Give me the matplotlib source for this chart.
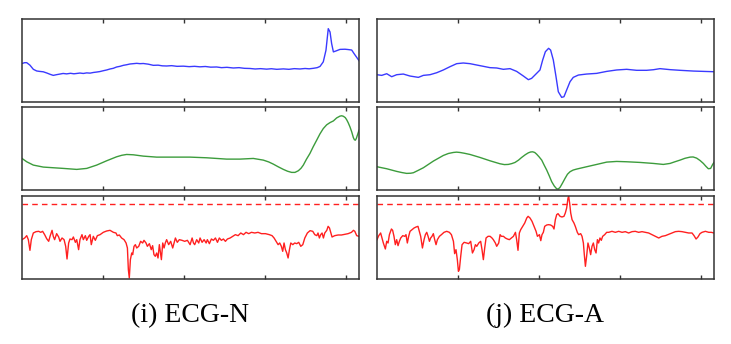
import matplotlib.pyplot as plt

# ---- data (sample index 0..250, normalised amplitude 0..1) ----
# (i) ECG-N: raw signal
n_raw_x = [0, 2, 3.5, 5.9, 8.4, 10.9, 13, 15.8, 18.5, 20.8, 23.2, 25.5, 28.2, 30.5, 33.1, 36, 38.5,
           40.6, 43, 45.5, 48, 50.5, 53, 55.4, 57.8, 60.3, 62.8, 65.3, 67.7, 70.2, 72.7, 75.2, 77.6,
           80.1, 82.6, 85.1, 87.5, 90, 93.7, 97.4, 101, 104, 107.3, 111, 115, 119.7, 124, 128, 132,
           136, 140, 144.4, 148, 152, 156.8, 161, 165, 169.1, 173, 177, 181.5, 185, 189, 193.9, 198,
           202, 206.2, 210, 213, 216.1, 219, 221.1, 223.5, 225.5, 227.2, 228.5, 229.7, 231, 233.4,
           235.9, 239.6, 242, 244.6, 246.3, 248.3, 250]
n_raw_y = [0.46, 0.47, 0.47, 0.44, 0.39, 0.37, 0.365, 0.36, 0.345, 0.33, 0.317, 0.325, 0.333, 0.34,
           0.335, 0.342, 0.336, 0.34, 0.345, 0.34, 0.347, 0.344, 0.352, 0.357, 0.363, 0.373, 0.382,
           0.394, 0.402, 0.418, 0.426, 0.438, 0.445, 0.454, 0.458, 0.462, 0.458, 0.46, 0.452, 0.438,
           0.44, 0.432, 0.43, 0.434, 0.426, 0.428, 0.422, 0.426, 0.42, 0.424, 0.416, 0.418, 0.41,
           0.414, 0.406, 0.41, 0.402, 0.4, 0.394, 0.398, 0.392, 0.397, 0.39, 0.395, 0.39, 0.398,
           0.394, 0.4, 0.396, 0.402, 0.41, 0.425, 0.48, 0.62, 0.88, 0.84, 0.70, 0.60, 0.614, 0.63,
           0.632, 0.628, 0.622, 0.58, 0.534, 0.494]

# (i) ECG-N: smoothed signal
n_smooth_x = [0, 3.5, 8.4, 15.8, 23.2, 30.7, 40.6, 48, 55.4, 62.8, 70.2, 74, 77.6, 82.6, 90, 99.9,
              112.3, 124.6, 137, 151.8, 161.7, 171.6, 179, 183, 186.4, 190, 193.9, 197, 200, 202.5,
              205, 207, 208.7, 211, 213.6, 216, 218.6, 221, 223.5, 226, 228.5, 231, 233.4, 235.9,
              237.2, 238.4, 239.8, 240.8, 242, 243.3, 244.6, 245.8, 246.6, 247.3, 248, 248.8, 250]
n_smooth_y = [0.38, 0.34, 0.30, 0.276, 0.268, 0.26, 0.248, 0.26, 0.30, 0.352, 0.40, 0.418, 0.428,
              0.424, 0.408, 0.396, 0.396, 0.396, 0.388, 0.372, 0.372, 0.38, 0.36, 0.338, 0.312, 0.28,
              0.248, 0.226, 0.212, 0.212, 0.232, 0.262, 0.30, 0.37, 0.44, 0.52, 0.60, 0.675, 0.74,
              0.785, 0.812, 0.832, 0.868, 0.89, 0.894, 0.888, 0.872, 0.848, 0.81, 0.76, 0.70, 0.632,
              0.605, 0.60, 0.62, 0.66, 0.72]

# (i) ECG-N: anomaly score
n_score_x = [0, 2, 3.5, 4.7, 5.9, 6.9, 8.4, 10.4, 12.4, 13.9, 15.3, 16.8, 18.3, 19.8, 20.8, 22.3,
             23.2, 24.2, 25.7, 27.2, 28.2, 29.7, 31.2, 32.4, 33.4, 34.6, 35.6, 37.1, 38.1, 39.6,
             40.6, 42, 43, 44.5, 45.5, 47, 48, 49.5, 50.5, 51.4, 52.9, 54.4, 55.9, 57.9, 60.3,
             62.8, 65.3, 67.8, 69.7, 70.7, 72.2, 73.9, 75.7, 77.2, 78.2, 78.9, 79.6, 80.4, 81.4,
             82.1, 83.1, 84.1, 85.1, 86.6, 88, 89.5, 90.5, 92, 93, 94.5, 95.9, 96.9, 97.9, 98.9,
             99.9, 100.9, 101.9, 103.4, 104.4, 105.4, 106.3, 107.3, 108.8, 110.3, 111.8, 112.8,
             113.8, 115.2, 116.7, 118.7, 120.7, 122.7, 124.7, 126.2, 127.2, 128.1, 129.6, 131.1,
             132.1, 133.6, 135.1, 136.6, 137.5, 139, 140.5, 142, 143.5, 145, 146.4, 147.9, 149.4,
             150.9, 152.4, 154.4, 156.3, 158.3, 160.3, 162.3, 164.3, 166.2, 168.2, 170.2, 172.7,
             175.1, 177.6, 180.6, 183.5, 185.5, 187, 188.5, 190, 191.2, 192.4, 193.4, 194.4, 195.4,
             196.4, 197.4, 198.4, 199.4, 200.9, 202.3, 203.8, 205.3, 206.8, 208.3, 209.8, 211.7,
             213.7, 215.7, 217.2, 218.7, 219.6, 220.6, 221.6, 222.6, 223.6, 224.6, 226.1, 227.1,
             228.1, 229, 230, 232, 234.5, 237, 239.4, 241.9, 244.4, 245.9, 246.9, 248.3, 250]
n_score_y = [0.472, 0.492, 0.52, 0.472, 0.344, 0.472, 0.552, 0.568, 0.572, 0.56, 0.572, 0.532,
             0.484, 0.452, 0.512, 0.584, 0.512, 0.472, 0.544, 0.504, 0.452, 0.492, 0.472, 0.392,
             0.24, 0.432, 0.48, 0.472, 0.504, 0.44, 0.472, 0.352, 0.472, 0.532, 0.472, 0.52,
             0.464, 0.512, 0.532, 0.412, 0.512, 0.464, 0.52, 0.532, 0.56, 0.576, 0.584, 0.56,
             0.552, 0.52, 0.528, 0.492, 0.472, 0.432, 0.372, 0.112, 0.012, 0.232, 0.312, 0.292,
             0.392, 0.412, 0.372, 0.392, 0.452, 0.432, 0.464, 0.432, 0.392, 0.424, 0.352, 0.40,
             0.292, 0.272, 0.312, 0.252, 0.412, 0.232, 0.432, 0.372, 0.432, 0.472, 0.412, 0.452,
             0.372, 0.432, 0.492, 0.44, 0.472, 0.464, 0.452, 0.464, 0.412, 0.492, 0.432, 0.412,
             0.472, 0.432, 0.492, 0.44, 0.472, 0.432, 0.472, 0.424, 0.48, 0.464, 0.492, 0.44,
             0.492, 0.464, 0.48, 0.452, 0.48, 0.492, 0.512, 0.532, 0.52, 0.552, 0.532, 0.56,
             0.544, 0.56, 0.552, 0.56, 0.544, 0.544, 0.532, 0.52, 0.492, 0.452, 0.412, 0.432,
             0.392, 0.332, 0.432, 0.352, 0.312, 0.252, 0.352, 0.432, 0.412, 0.432, 0.424, 0.44,
             0.392, 0.412, 0.492, 0.552, 0.58, 0.572, 0.532, 0.52, 0.552, 0.492, 0.532, 0.552,
             0.492, 0.552, 0.584, 0.632, 0.612, 0.56, 0.504, 0.52, 0.528, 0.528, 0.536, 0.544,
             0.56, 0.584, 0.572, 0.52, 0.512]

# (j) ECG-A: raw signal
a_raw_x = [0, 3.5, 7.2, 10.9, 14.6, 19.5, 24.5, 30.7, 34.4, 39.3, 44.3, 49.2, 54.2, 59.1, 64, 69,
           73.9, 78.9, 83.8, 88.8, 93.7, 98.7, 103.6, 108.6, 112.3, 114.7, 118.4, 120.9, 122.9,
           124.9, 127.3, 128.8, 130.8, 132.8, 134.5, 137, 138.7, 140.7, 143.2, 145.6, 149.4,
           155.5, 162.9, 170.4, 177.8, 185.2, 192.6, 200, 205, 209.9, 217.4, 224.8, 234.7,
           242.1, 250]
a_raw_y = [0.325, 0.317, 0.337, 0.301, 0.325, 0.333, 0.309, 0.293, 0.317, 0.325, 0.349, 0.382,
           0.422, 0.458, 0.466, 0.458, 0.442, 0.426, 0.41, 0.406, 0.39, 0.398, 0.365, 0.309,
           0.265, 0.281, 0.341, 0.382, 0.502, 0.602, 0.643, 0.622, 0.502, 0.301, 0.12, 0.052,
           0.06, 0.141, 0.241, 0.293, 0.321, 0.333, 0.341, 0.365, 0.382, 0.39, 0.378, 0.378,
           0.385, 0.398, 0.386, 0.378, 0.369, 0.365, 0.361]

# (j) ECG-A: smoothed signal
a_smooth_x = [0, 7.2, 14.6, 18.5, 22, 25, 27, 30.5, 34.4, 41.8, 49.2, 53, 56.6, 59, 61.6, 65, 69,
              76.4, 83.8, 91.2, 94.5, 97.4, 100, 102.4, 105, 107.3, 110, 112.3, 114, 115.5, 117,
              118.4, 120.2, 122.2, 124, 125.9, 127.8, 129.6, 131.5, 133.3, 134.5, 135.8, 137.5,
              139.5, 141.3, 143.2, 145.5, 148.1, 155.5, 163, 170.4, 177.8, 185.2, 195.1, 205,
              212.4, 217.4, 221, 224.8, 228.5, 232.2, 234.5, 237.1, 239.6, 242.1, 244, 245.8,
              247.5, 249, 250]
a_smooth_y = [0.28, 0.256, 0.224, 0.21, 0.20, 0.202, 0.208, 0.236, 0.268, 0.348, 0.416, 0.44,
              0.452, 0.456, 0.452, 0.442, 0.428, 0.392, 0.352, 0.316, 0.306, 0.308, 0.318, 0.332,
              0.36, 0.392, 0.425, 0.448, 0.458, 0.46, 0.452, 0.432, 0.40, 0.36, 0.30, 0.24, 0.17,
              0.10, 0.048, 0.014, 0.012, 0.032, 0.08, 0.14, 0.19, 0.22, 0.24, 0.252, 0.28, 0.308,
              0.336, 0.344, 0.34, 0.332, 0.32, 0.308, 0.32, 0.34, 0.36, 0.382, 0.396, 0.398,
              0.384, 0.356, 0.32, 0.285, 0.256, 0.26, 0.308, 0.332]

# (j) ECG-A: anomaly score
a_score_x = [0, 1.3, 2.7, 3.7, 4.7, 6.2, 7.2, 8.2, 9.2, 10.7, 11.6, 12.6, 13.6, 14.6, 15.6, 16.6,
             17.6, 19.1, 20.6, 21.5, 22.5, 23.5, 24.5, 26, 27.5, 29, 30.4, 31.4, 32.4, 33.7, 34.9,
             35.9, 36.9, 37.9, 38.9, 39.8, 40.8, 41.8, 42.8, 43.8, 44.8, 46.3, 47.8, 49.7, 51.7,
             53.7, 55.2, 56.7, 57.6, 58.6, 59.6, 60.4, 61.1, 62.1, 63.1, 64.6, 66.5, 68, 69.5,
             70.8, 72, 73, 74, 75.5, 76.9, 77.9, 78.9, 79.9, 80.9, 82.4, 83.9, 85.3, 86.3, 87.8,
             88.8, 90.3, 91.3, 92.3, 93.8, 95.2, 96.7, 98.2, 99.7, 101.2, 102.7, 103.6, 104.6,
             105.6, 106.6, 108.1, 109.6, 111.1, 112.1, 113.5, 115, 116.5, 118, 119, 120.5, 121.5,
             122.4, 123.4, 124.4, 125.9, 127.3, 128.8, 130.3, 131.3, 132.3, 133.3, 134.3, 135.8,
             137.2, 138.7, 139.7, 140.7, 141.7, 142.2, 142.9, 143.7, 144.7, 146.1, 147.1, 148.6,
             149.6, 151.1, 152.1, 153.1, 153.8, 154.6, 155.5, 156.5, 157.5, 158.5, 159.5, 160.5,
             161.5, 162.5, 163.5, 164.4, 165.4, 166.4, 167.4, 168.9, 170.4, 171.9, 174.3, 176.8,
             179.3, 181.8, 184.2, 186.7, 189.2, 191.6, 194.1, 196.6, 199.1, 201.5, 204, 206.5,
             209, 211.4, 213.9, 216.4, 218.8, 221.3, 223.8, 226.3, 228.7, 231.2, 233.7, 235.2,
             236.7, 238.1, 239.6, 241.1, 243.6, 246.1, 248, 250]
a_score_y = [0.472, 0.52, 0.552, 0.492, 0.432, 0.36, 0.452, 0.432, 0.532, 0.60, 0.584, 0.512,
             0.412, 0.472, 0.40, 0.452, 0.492, 0.52, 0.512, 0.532, 0.432, 0.512, 0.572, 0.592,
             0.612, 0.624, 0.632, 0.572, 0.512, 0.372, 0.472, 0.532, 0.56, 0.512, 0.452, 0.492,
             0.512, 0.544, 0.472, 0.412, 0.472, 0.512, 0.532, 0.56, 0.572, 0.56, 0.532, 0.452,
             0.304, 0.352, 0.232, 0.092, 0.112, 0.272, 0.412, 0.44, 0.432, 0.424, 0.452, 0.312,
             0.352, 0.412, 0.392, 0.432, 0.452, 0.352, 0.232, 0.372, 0.492, 0.512, 0.512, 0.492,
             0.472, 0.432, 0.392, 0.432, 0.532, 0.512, 0.512, 0.492, 0.48, 0.472, 0.492, 0.512,
             0.56, 0.472, 0.344, 0.552, 0.592, 0.632, 0.672, 0.732, 0.752, 0.732, 0.692, 0.632,
             0.572, 0.512, 0.532, 0.46, 0.532, 0.56, 0.632, 0.648, 0.652, 0.648, 0.632, 0.60,
             0.712, 0.772, 0.784, 0.752, 0.744, 0.752, 0.792, 0.852, 0.972, 0.99, 0.912, 0.792,
             0.712, 0.672, 0.632, 0.56, 0.532, 0.544, 0.512, 0.432, 0.292, 0.152, 0.272, 0.432,
             0.372, 0.292, 0.392, 0.432, 0.352, 0.312, 0.472, 0.432, 0.492, 0.464, 0.512, 0.532,
             0.56, 0.56, 0.572, 0.56, 0.572, 0.56, 0.568, 0.552, 0.568, 0.572, 0.56, 0.568, 0.56,
             0.552, 0.532, 0.512, 0.492, 0.512, 0.52, 0.536, 0.552, 0.568, 0.572, 0.568, 0.56,
             0.552, 0.552, 0.52, 0.48, 0.504, 0.544, 0.56, 0.572, 0.56, 0.56, 0.552]

threshold = 0.90
captions = ["(i) ECG-N", "(j) ECG-A"]

# ---- figure ----
fig = plt.figure(figsize=(7.31, 3.44), dpi=100)

col_left = [22 / 731, 377 / 731]
col_w = 337 / 731
rows = [(0.7044, 0.2413), (0.4477, 0.2413), (0.189, 0.2422)]

series = [
    [(n_raw_x, n_raw_y, "#3a3aff"), (n_smooth_x, n_smooth_y, "#3c9c3c"), (n_score_x, n_score_y, "#ff2020")],
    [(a_raw_x, a_raw_y, "#3a3aff"), (a_smooth_x, a_smooth_y, "#3c9c3c"), (a_score_x, a_score_y, "#ff2020")],
]

for c in range(2):
    for r in range(3):
        ax = fig.add_axes([col_left[c], rows[r][0], col_w, rows[r][1]])
        x, y, color = series[c][r]
        ax.plot(x, y, color=color, lw=1.0)
        if r == 2:
            # detection threshold
            ax.axhline(threshold, color="#ff2020", lw=1.0, ls=(0, (4, 3)))
        ax.set_xlim(0, 250)
        ax.set_ylim(0, 1)
        ax.set_xticks([60, 120, 180, 240])
        ax.set_yticks([])
        ax.tick_params(axis="x", direction="in", top=True, bottom=True, length=3, width=1,
                       color="#333333", labelbottom=False)
        for s in ax.spines.values():
            s.set_color("#333333")
            s.set_linewidth(1.1)
    fig.text(col_left[c] + col_w / 2, 0.065, captions[c], ha="center", va="baseline",
             fontsize=20, family="Liberation Serif")

fig.savefig("out.png", dpi=100)
